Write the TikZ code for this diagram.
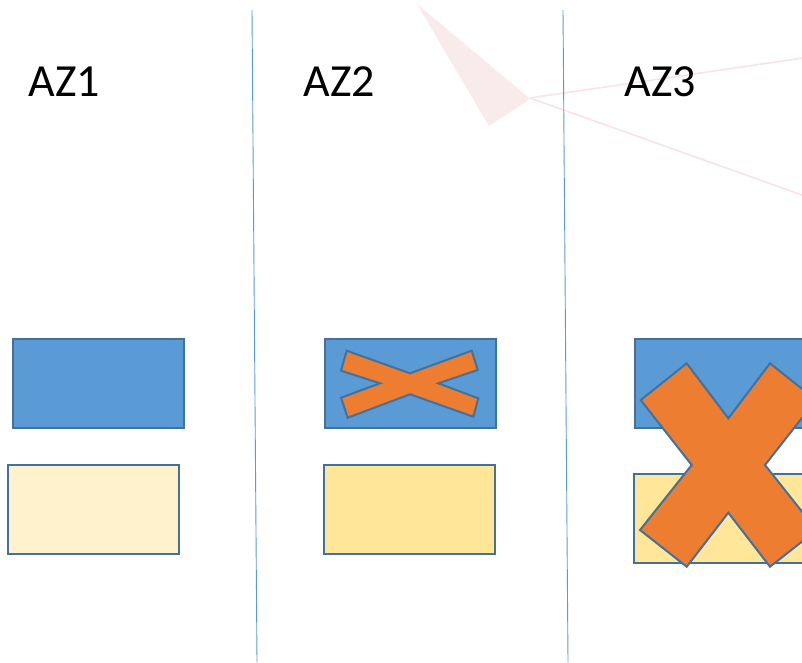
\documentclass[tikz,border=0pt]{standalone}
\usepackage{fontspec}
\setmainfont{Carlito}
\begin{document}
\begin{tikzpicture}[x=1pt,y=-1pt,
  zonelabel/.style={anchor=base west,inner sep=0pt,font=\fontsize{46}{55}\selectfont},
  box/.style={draw=boxline,line width=2pt,inner sep=0pt,minimum width=171pt,minimum height=89pt},
  bluebox/.style={box,fill=boxblue},
  creambox/.style={box,fill=boxcream},
  yellowbox/.style={box,fill=boxyellow},
  cross/.style={draw=boxline,line width=2pt,fill=crossorange,line join=miter},
  divider/.style={draw=divblue,line width=0.9pt},
  ghost/.style={draw=ghostline,line width=1.6pt}]
\definecolor{boxblue}{HTML}{5B9BD5}
\definecolor{boxline}{HTML}{41719C}
\definecolor{boxcream}{HTML}{FFF2CC}
\definecolor{boxyellow}{HTML}{FFE699}
\definecolor{crossorange}{HTML}{ED7D31}
\definecolor{divblue}{HTML}{5B9BD5}
\definecolor{ghostpink}{HTML}{F9EAEB}
\definecolor{ghostline}{HTML}{F8E4E6}
\useasboundingbox (0,0) rectangle (802,662);
\clip (0,0) rectangle (802,662);
\fill[white] (0,0) rectangle (802,662);

% faint pointer shape
\fill[ghostpink] (417,4) -- (530,99) -- (489,126) -- cycle;
\draw[ghost] (530,98) -- (830,54);
\draw[ghost] (530,98) -- (830,205);

% zone dividers
\draw[divider] (252,10) -- (257,662);
\draw[divider] (563,10) -- (568,662);

% zone titles
\node[zonelabel] (az1) at (28.5,96.7) {AZ1};
\node[zonelabel] (az2) at (303.5,96.7) {AZ2};
\node[zonelabel] (az3) at (624.5,96.7) {AZ3};

% zone 1
\node[bluebox] (b1) at (98.5,383.5) {};
\node[creambox] (c1) at (93.5,509.5) {};

% zone 2
\node[bluebox] (b2) at (410,383.5) {};
\node[yellowbox] (c2) at (409.5,509.5) {};
\draw[cross] (346.7,350.7) -- (410,373.3) -- (471.7,350.7) -- (477.7,370)
  -- (438.3,383.3) -- (478.3,398.3) -- (473.3,416.7) -- (410,394.3)
  -- (347.7,417.7) -- (341,397.7) -- (380,383.3) -- (341,370.7) -- cycle;

% zone 3
\node[bluebox] (b3) at (720.5,383.5) {};
\node[yellowbox] (c3) at (719.5,518.5) {};
\draw[cross] (686.7,363.3) -- (728.3,418.3) -- (770,363.3) -- (816,400)
  -- (765,465) -- (816.6,530) -- (770,566.7) -- (728.3,512.7)
  -- (686.7,566.7) -- (640,530) -- (691.7,465) -- (640.7,400) -- cycle;
\end{tikzpicture}
\end{document}
